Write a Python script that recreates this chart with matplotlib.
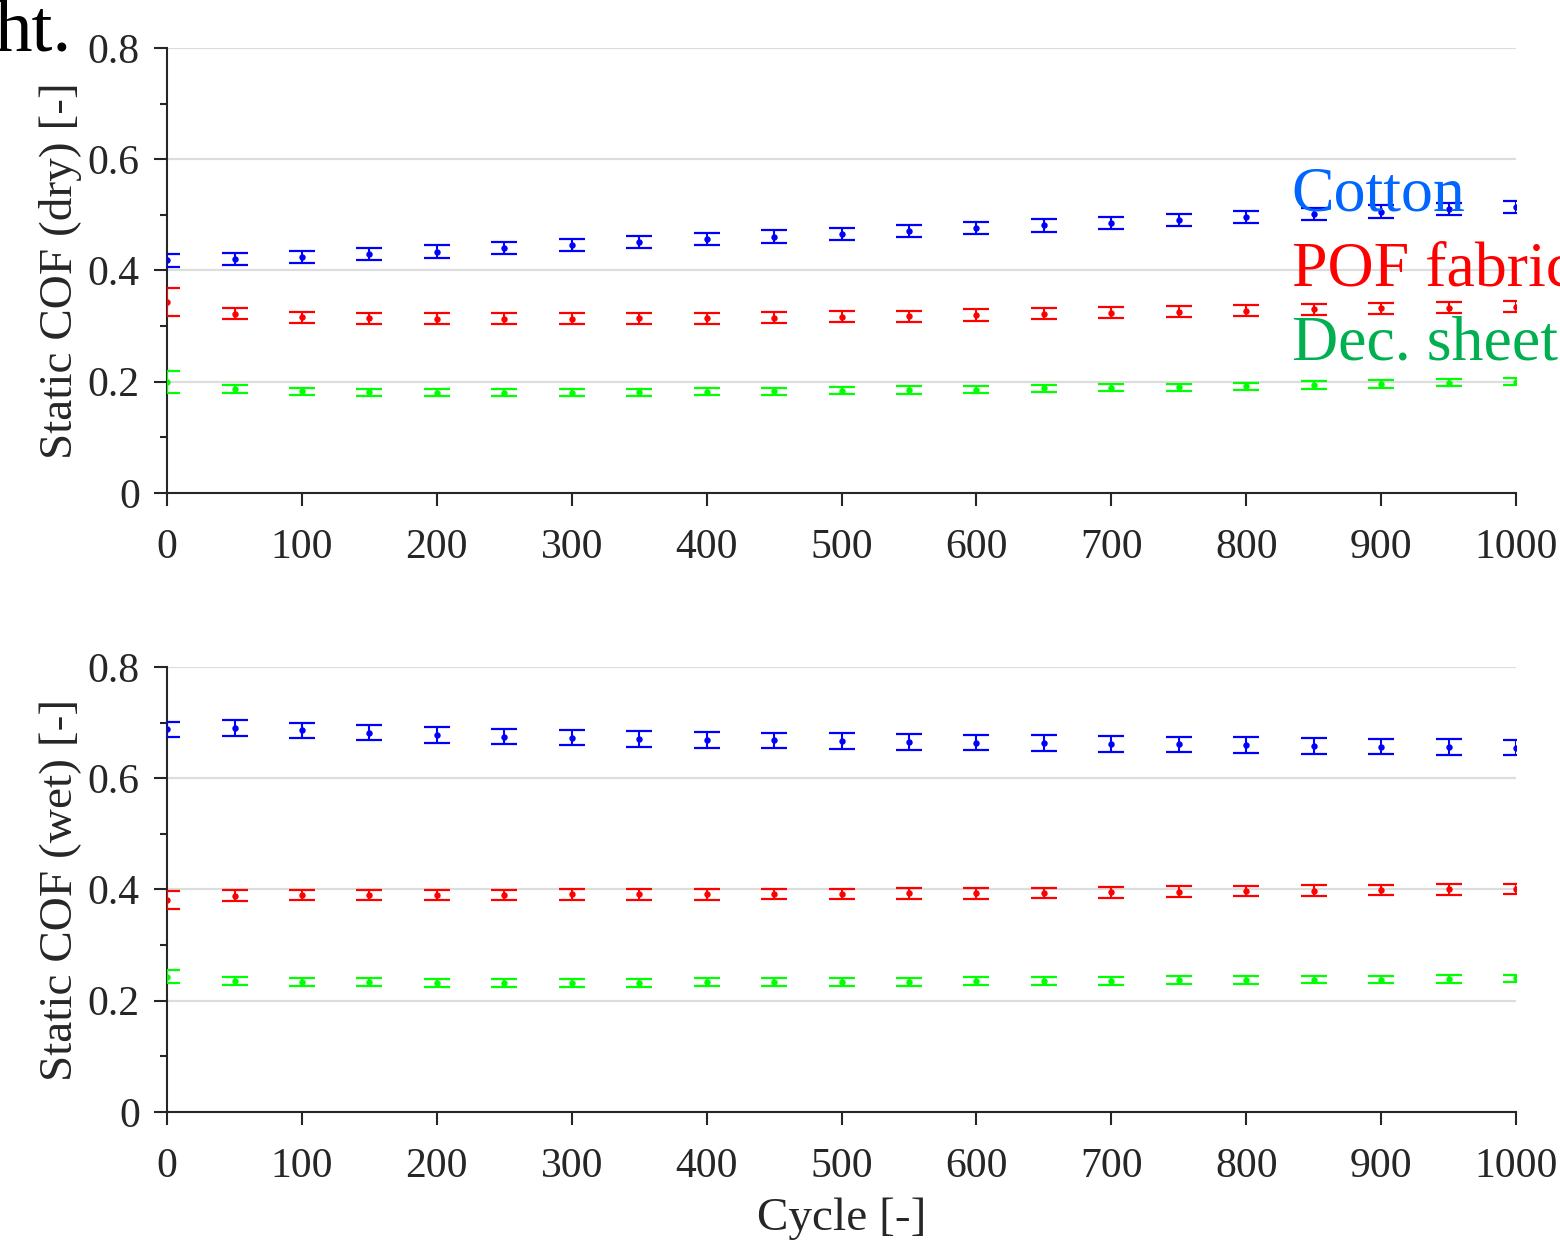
import numpy as np
import matplotlib
matplotlib.use("Agg")
import matplotlib.pyplot as plt
from matplotlib.ticker import MultipleLocator

plt.rcParams['font.family'] = ['Liberation Serif', 'DejaVu Serif']

# cycles
cycles = np.arange(0, 1001, 50)

# dry
cotton_dry = [0.418, 0.420, 0.424, 0.429, 0.434, 0.440, 0.446, 0.451, 0.456, 0.461, 0.466,
              0.471, 0.476, 0.481, 0.486, 0.491, 0.496, 0.501, 0.506, 0.510, 0.514]
cotton_dry_err = [0.011] * 21
pof_dry = [0.344, 0.322, 0.316, 0.314, 0.313, 0.313, 0.313, 0.314, 0.314, 0.315, 0.317,
           0.318, 0.320, 0.322, 0.324, 0.326, 0.328, 0.330, 0.332, 0.333, 0.335]
pof_dry_err = [0.025] + [0.010] * 20
dec_dry = [0.200, 0.187, 0.183, 0.181, 0.180, 0.180, 0.180, 0.181, 0.182, 0.183, 0.184,
           0.185, 0.186, 0.188, 0.189, 0.190, 0.192, 0.194, 0.196, 0.198, 0.200]
dec_dry_err = [0.020] + [0.0065] * 20

# wet
cotton_wet = [0.688, 0.690, 0.686, 0.682, 0.678, 0.675, 0.673, 0.671, 0.669, 0.668, 0.667,
              0.665, 0.664, 0.663, 0.662, 0.661, 0.660, 0.658, 0.657, 0.656, 0.655]
cotton_wet_err = [0.014] * 21
pof_wet = [0.381, 0.389, 0.390, 0.390, 0.390, 0.390, 0.391, 0.391, 0.391, 0.392, 0.392,
           0.393, 0.393, 0.394, 0.395, 0.396, 0.397, 0.398, 0.399, 0.400, 0.401]
pof_wet_err = [0.016] + [0.0095] * 20
dec_wet = [0.243, 0.236, 0.234, 0.233, 0.232, 0.232, 0.232, 0.232, 0.233, 0.233, 0.234,
           0.234, 0.235, 0.235, 0.236, 0.237, 0.237, 0.238, 0.238, 0.239, 0.240]
dec_wet_err = [0.012] + [0.007] * 20

labels = ['Cotton', 'POF fabric', 'Dec. sheet']
label_colors = ['#0066ff', '#ff0000', '#00b050']
mark_colors = ['#0000ff', '#ff0000', '#00ff00']

fig = plt.figure(figsize=(7.8, 6.215), dpi=200)
ax1 = fig.add_axes([0.1071, 0.6034, 0.8647, 0.358])
ax2 = fig.add_axes([0.1071, 0.1054, 0.8647, 0.358])

dark = '#262626'

def style(ax, ylab):
    ax.set_xlim(0, 1000)
    ax.set_ylim(0, 0.8)
    ax.xaxis.set_major_locator(MultipleLocator(100))
    ax.yaxis.set_minor_locator(MultipleLocator(0.1))
    ax.set_yticks([0, 0.2, 0.4, 0.6, 0.8])
    ax.set_yticklabels(['0', '0.2', '0.4', '0.6', '0.8'])
    ax.grid(axis='y', which='major', color='#dddddd', lw=0.8, zorder=0)
    ax.set_axisbelow(True)
    for s in ['top', 'right']:
        ax.spines[s].set_visible(False)
    for s in ['left', 'bottom']:
        ax.spines[s].set_color(dark)
        ax.spines[s].set_linewidth(0.75)
    ax.tick_params(which='major', direction='out', length=4.8, width=0.75,
                   color=dark, labelcolor=dark, labelsize=15, pad=5)
    ax.tick_params(axis='x', which='major', pad=8)
    ax.tick_params(which='minor', direction='out', length=2.6, width=0.75, color=dark)
    ax.tick_params(axis='x', which='minor', length=0)
    ax.set_ylabel(ylab, fontsize=17, color=dark, labelpad=2)

for ax, series in [(ax1, [(cotton_dry, cotton_dry_err), (pof_dry, pof_dry_err), (dec_dry, dec_dry_err)]),
                   (ax2, [(cotton_wet, cotton_wet_err), (pof_wet, pof_wet_err), (dec_wet, dec_wet_err)])]:
    for (y, e), c in zip(series, mark_colors):
        ax.errorbar(cycles, y, yerr=e, fmt='o', ms=1.3, color=c, ecolor=c,
                    elinewidth=0.75, capsize=4.7, capthick=0.8, zorder=3)

style(ax1, 'Static COF (dry) [-]')
style(ax2, 'Static COF (wet) [-]')
ax2.set_xlabel('Cycle [-]', fontsize=17, color=dark, labelpad=4)

for i, (lab, c) in enumerate(zip(labels, label_colors)):
    fig.text(0.828, 0.831 - i * 0.0603, lab, color=c, fontsize=23, ha='left', va='baseline')

fig.text(-0.004, 0.9585, 'ht.', fontsize=27, color='black', ha='left', va='baseline')

fig.savefig('out.png', dpi=200)
